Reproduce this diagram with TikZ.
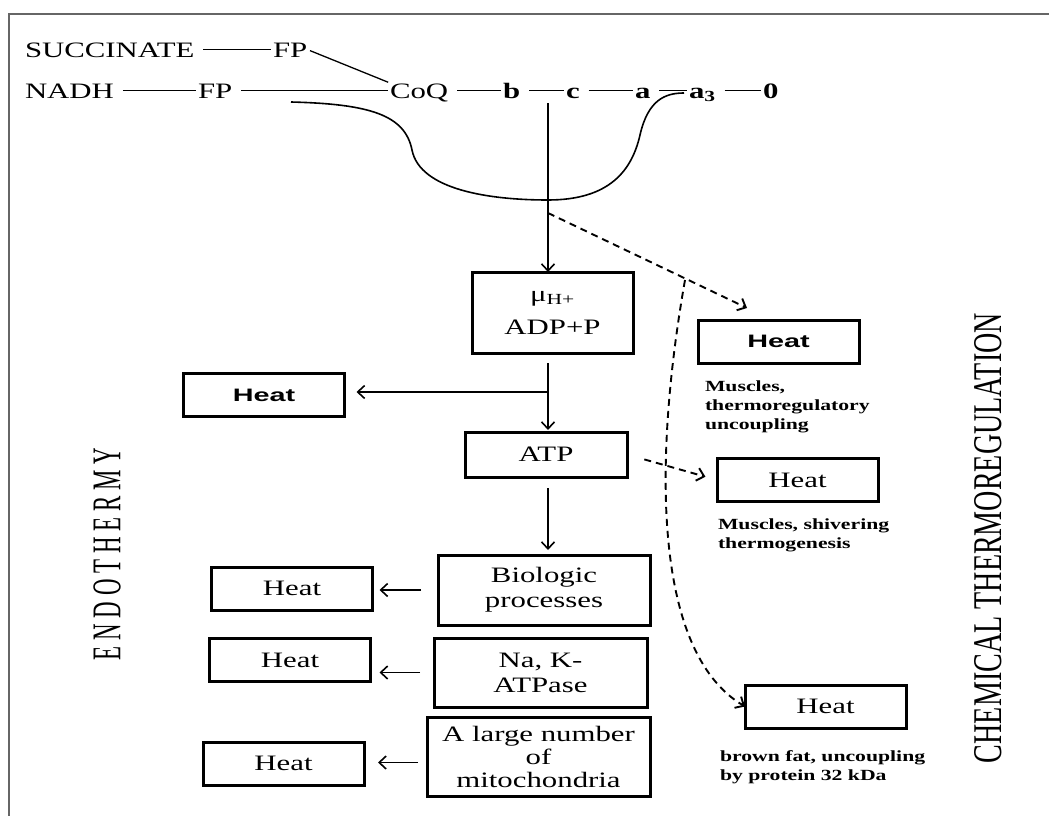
\documentclass[tikz,border=0pt]{standalone}
\usepackage{graphicx}
\usepackage{fontspec}
\setmainfont{Liberation Serif}[FakeStretch=1.4]
\newfontfamily\boxsans{Liberation Sans}[FakeStretch=1.6]
\newfontfamily\sideserif{Liberation Serif}
\usetikzlibrary{arrows.meta}
\begin{document}
\begin{tikzpicture}[x=1pt,y=-1pt,
  every node/.style={inner sep=0pt, outer sep=0pt},
  chem/.style={font=\fontsize{22}{25}\selectfont, text height=15pt, text depth=0pt, anchor=west},
  chemb/.style={chem, font=\fontsize{22}{25}\selectfont\bfseries},
  link/.style={line width=1.3pt, shorten <=9pt, shorten >=2pt},
  box/.style={draw, line width=3pt, align=center, font=\fontsize{22}{25}\selectfont},
  heatbox/.style={box, minimum width=161pt, minimum height=43pt},
  sansheat/.style={heatbox, font=\fontsize{18}{20}\selectfont\boxsans\bfseries},
  arr/.style={line width=1.6pt, -{Straight Barb[length=7pt,width=13pt]}},
  darr/.style={arr, dash pattern=on 7pt off 5pt, line width=1.9pt},
  note/.style={anchor=north west, align=left, font=\fontsize{15.5}{19}\selectfont\bfseries},
  side/.style={rotate=90, font=\sideserif}
]
\useasboundingbox (0,0) rectangle (1049,816);

% frame
\draw[black!60, line width=2.4pt] (1049,14) -- (9,14) -- (9,816);

% respiratory chain
\node[chem]  (succ) at (25,49.5)  {SUCCINATE};
\node[chem]  (fpa)  at (273,49.5) {FP};
\node[chem]  (nadh) at (25,90.5)  {NADH};
\node[chem]  (fpb)  at (198,90.5) {FP};
\node[chem]  (coq)  at (390,90.5) {CoQ};
\node[chemb] (cb)   at (503,90.5) {b};
\node[chemb] (cc)   at (566,90.5) {c};
\node[chemb] (ca)   at (635,90.5) {a};
\node[chemb] (caa)  at (689,90.5) {a\textsubscript{3}};
\node[chemb] (oxy)  at (763,90.5) {0};

\draw[link] (succ) -- (fpa);
\draw[line width=1.3pt, shorten <=3pt, shorten >=2pt] (fpa.east) -- (coq.north west);
\draw[link] (nadh) -- (fpb);
\draw[link] (fpb) -- (coq);
\draw[link] (coq) -- (cb);
\draw[link] (cb) -- (cc);
\draw[link] (cc) -- (ca);
\draw[link] (ca) -- (caa);
\draw[link] (caa) -- (oxy);

% proton loop under the chain
\coordinate (loopl) at (291,102);
\coordinate (loopb) at (548,200);
\coordinate (loopr) at (684,93);
\draw[line width=1.6pt] (loopl) .. controls (370,104) and (405,115) .. (412,150)
  .. controls (420,190) and (490,200) .. (loopb)
  .. controls (610,200) and (632,170) .. (640,135)
  .. controls (648,100) and (665,93) .. (loopr);

% boxes of the central column
\node[box, minimum width=161pt, minimum height=81pt] (muh) at (552.5,312.5)
  {μ\textsubscript{H+}\\[8pt]ADP+P};
\node[box, minimum width=162pt, minimum height=45pt] (atp) at (546,454.5) {ATP};
\node[box, minimum width=212pt, minimum height=70pt] (bio) at (544,590) {Biologic\\processes};
\node[box, minimum width=213pt, minimum height=69pt] (nak) at (540.5,672.5) {Na, K-\\ATPase};
\node[box, minimum width=223pt, minimum height=79pt, font=\fontsize{22}{23}\selectfont] (mito) at (538.5,756.5)
  {A large number\\of\\mitochondria};

% heat boxes on the left
\node[sansheat] (heatl) at (264,395) {Heat};
\node[heatbox] (heata) at (292,588.5) {Heat};
\node[heatbox] (heatb) at (290,660) {Heat};
\node[heatbox] (heatc) at (283.5,763.5) {Heat};

% heat boxes on the right
\node[sansheat] (heatm) at (778.5,341.5) {Heat};
\node[heatbox] (heatn) at (797.5,480) {Heat};
\node[heatbox] (heatf) at (825.5,706.5) {Heat};

% notes under the right boxes
\node[note] (notem) at (705,381) {Muscles,\\thermoregulatory\\uncoupling};
\node[note] (noten) at (718,519) {Muscles, shivering\\thermogenesis};
\node[note] (notef) at (720,751) {brown fat, uncoupling\\by protein 32 kDa};

% side titles
\node[side] (endo) at (107,554) {\resizebox{212pt}{27pt}{E N D O T H E R M Y}};
\node[side] (chemt) at (988,538) {\resizebox{450pt}{27pt}{CHEMICAL THERMOREGULATION}};

% solid arrows
\coordinate (drop) at (548,103);
\draw[arr] (drop) -- (drop |- muh.north);
\draw[arr, shorten <=10pt, shorten >=2pt] (drop |- muh.south) -- (drop |- atp.north);
\coordinate (split) at (548,392);
\draw[arr, shorten >=12pt] (split) -- (split -| heatl.east);
\draw[arr, shorten <=11pt, shorten >=5pt] (drop |- atp.south) -- (drop |- bio.north);
\draw[arr, shorten <=17pt, shorten >=7pt] (bio.west) -- (bio.west -| heata.east);
\draw[arr, shorten <=14pt, shorten >=9pt] (nak.west) -- (nak.west -| heatb.east);
\draw[arr, shorten <=9pt, shorten >=14pt] (mito.west) ++(0,6) coordinate (mitoout) (mitoout) -- (mitoout -| heatc.east);

% dashed arrows
\coordinate (dstart) at (548,213);
\coordinate (dtip) at (747,308);
\coordinate (fork) at (685,280);
\draw[darr] (dstart) -- (dtip);
\draw[darr] (fork) .. controls (655,450) and (650,650) .. (heatf.west);
\draw[darr, shorten <=18pt, shorten >=12pt] (atp.east) -- (heatn.west);

\end{tikzpicture}
\end{document}
